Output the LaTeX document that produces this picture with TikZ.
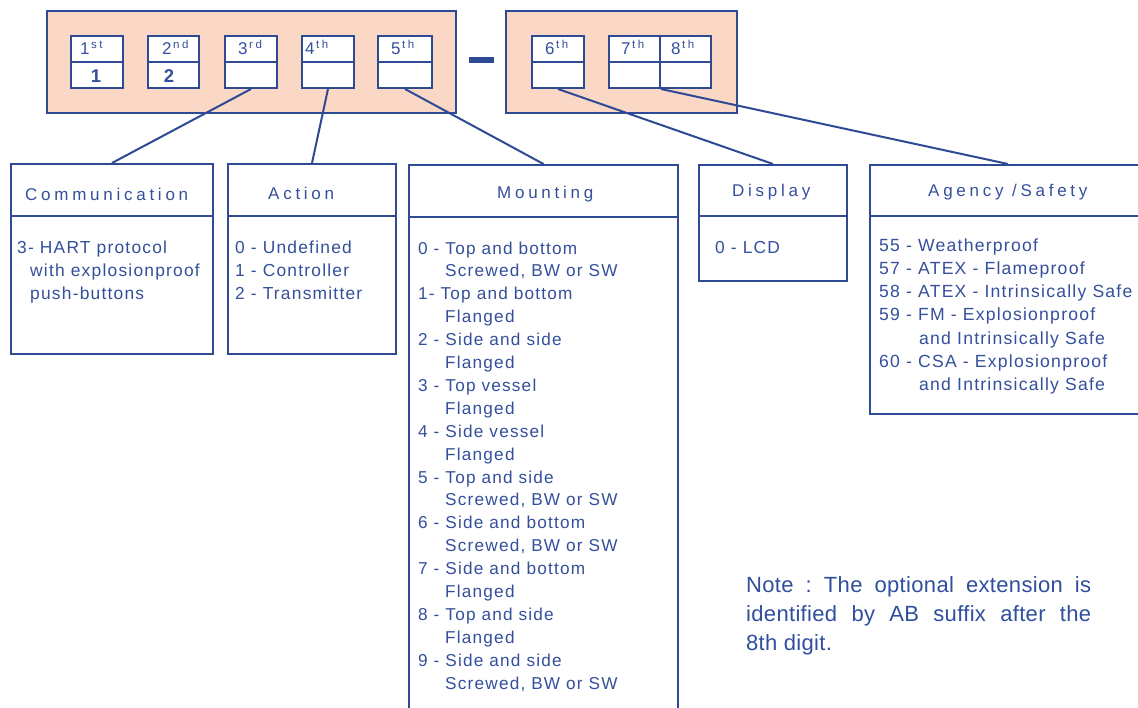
\documentclass[tikz,border=0pt]{standalone}
\usepackage{fontspec}
\setmainfont{Liberation Sans}
\newfontfamily\bodyfont[LetterSpace=7]{Liberation Sans}
\newfontfamily\hdfont[LetterSpace=22]{Liberation Sans}
\newfontfamily\notefont[LetterSpace=1.5]{Liberation Sans}
\definecolor{dblue}{HTML}{2E4A94}
\definecolor{tblue}{HTML}{34509C}
\definecolor{nblue}{HTML}{2F4F9E}
\definecolor{peach}{HTML}{FAD8C5}
\newcommand{\sfx}[1]{\hspace{1.5pt}\raisebox{5.5pt}{\hdfont\fontsize{11.5}{12}\selectfont #1}}
\newcommand{\bodyset}{\bodyfont\fontsize{17.4}{23}\selectfont}
\frenchspacing
\begin{document}
\frenchspacing
\begin{tikzpicture}[x=1pt,y=-1pt,
  grpbox/.style={draw=dblue,fill=peach,line width=2pt,inner sep=0pt,anchor=north west},
  digbox/.style={draw=dblue,fill=white,line width=2pt,inner sep=0pt,anchor=north west,minimum height=52pt},
  catbox/.style={draw=dblue,fill=white,line width=2pt,inner sep=0pt,anchor=north west},
  divl/.style={draw=dblue,line width=2.6pt},
  conn/.style={draw=dblue,line width=2pt},
  hdtxt/.style={text=tblue,inner sep=0pt,anchor=base west,font=\hdfont\fontsize{17}{20}\selectfont},
  bodytxt/.style={text=tblue,inner sep=0pt,anchor=base west},
  dlab/.style={text=tblue,inner sep=0pt,anchor=base west,font=\fontsize{17}{20}\selectfont},
  dval/.style={text=tblue,inner sep=0pt,anchor=base,font=\bfseries\fontsize{18.5}{20}\selectfont}]
\clip (0,0) rectangle (1138,707);
\fill[white] (0,0) rectangle (1138,707);
% group boxes
\node[grpbox,minimum width=409pt,minimum height=102pt] (g1) at (46,10) {};
\node[grpbox,minimum width=231pt,minimum height=102pt] (g2) at (505,10) {};
\node[fill=dblue,inner sep=0pt,minimum width=25pt,minimum height=6pt] (dash) at (481,60) {};
% digit boxes
\node[digbox,minimum width=52pt] (d1) at (70,35) {};
\node[digbox,minimum width=51pt] (d2) at (147,35) {};
\node[digbox,minimum width=52pt] (d3) at (224,35) {};
\node[digbox,minimum width=52pt] (d4) at (301,35) {};
\node[digbox,minimum width=54pt] (d5) at (377,35) {};
\node[digbox,minimum width=52pt] (d6) at (531,35) {};
\node[digbox,minimum width=51pt] (d7) at (608,35) {};
\node[digbox,minimum width=51pt] (d8) at (659,35) {};
\foreach \d in {d1,d2,d3,d4,d5,d6,d7,d8}{\draw[divl] (\d.west) -- (\d.east);}
% digit labels
\node[dlab] (l1) at (80,54) {1\sfx{st}};
\node[dlab] (l2) at (162,54) {2\sfx{nd}};
\node[dlab] (l3) at (238,54) {3\sfx{rd}};
\node[dlab] (l4) at (305,54) {4\sfx{th}};
\node[dlab] (l5) at (391,54) {5\sfx{th}};
\node[dlab] (l6) at (545,54) {6\sfx{th}};
\node[dlab] (l7) at (621,54) {7\sfx{th}};
\node[dlab] (l8) at (671,54) {8\sfx{th}};
\node[dval] (v1) at (96,82) {1};
\node[dval] (v2) at (169,82) {2};
% category boxes
\node[catbox,minimum width=202pt,minimum height=190pt] (comm) at (10,163) {};
\node[catbox,minimum width=168pt,minimum height=190pt] (act) at (227,163) {};
\node[catbox,minimum width=269pt,minimum height=560pt] (mount) at (408,164) {};
\node[catbox,minimum width=148pt,minimum height=116pt] (disp) at (698,164) {};
\node[catbox,minimum width=276pt,minimum height=249pt] (agcy) at (869,164) {};
\draw[divl] (comm.west |- 0,216) -- (comm.east |- 0,216);
\draw[divl] (act.west |- 0,216) -- (act.east |- 0,216);
\draw[divl] (mount.west |- 0,217) -- (mount.east |- 0,217);
\draw[divl] (disp.west |- 0,216) -- (disp.east |- 0,216);
\draw[divl] (agcy.west |- 0,216) -- (agcy.east |- 0,216);
% connectors
\draw[conn] (d3.south) -- (comm.north);
\draw[conn] (d4.south) -- (act.north);
\draw[conn] (d5.south) -- (mount.north);
\draw[conn] (d6.south) -- (disp.north);
\draw[conn] (d7.south east) -- (agcy.north);
% headers
\node[hdtxt] (hcomm) at (25,200) {Communication};
\node[hdtxt] (hact) at (268,199) {Action};
\node[hdtxt] (hmount) at (497,198) {Mounting};
\node[hdtxt] (hdisp) at (732,196) {Display};
\node[hdtxt] (hagcy) at (928,196) {Agency /Safety};
% bodies
\node[bodytxt] (bcomm) at (17,253) {\parbox[t]{195pt}{\bodyset 3- HART protocol\\
\hspace*{13pt}with explosionproof\\
\hspace*{13pt}push-buttons}};
\node[bodytxt] (bact) at (235,253) {\parbox[t]{160pt}{\bodyset 0 - Undefined\\
1 - Controller\\
2 - Transmitter}};
\node[bodytxt] (bmount) at (418,254) {\parbox[t]{255pt}{\bodyfont\fontsize{17.2}{22.9}\selectfont
0 - Top and bottom\\
\hspace*{27pt}Screwed, BW or SW\\
1- Top and bottom\\
\hspace*{27pt}Flanged\\
2 - Side and side\\
\hspace*{27pt}Flanged\\
3 - Top vessel\\
\hspace*{27pt}Flanged\\
4 - Side vessel\\
\hspace*{27pt}Flanged\\
5 - Top and side\\
\hspace*{27pt}Screwed, BW or SW\\
6 - Side and bottom\\
\hspace*{27pt}Screwed, BW or SW\\
7 - Side and bottom\\
\hspace*{27pt}Flanged\\
8 - Top and side\\
\hspace*{27pt}Flanged\\
9 - Side and side\\
\hspace*{27pt}Screwed, BW or SW}};
\node[bodytxt] (bdisp) at (715,253) {\parbox[t]{120pt}{\bodyset 0 - LCD}};
\node[bodytxt] (bagcy) at (879,251) {\parbox[t]{265pt}{\bodyfont\fontsize{17.6}{23.3}\selectfont
55 - Weatherproof\\
57 - ATEX - Flameproof\\
58 - ATEX - Intrinsically Safe\\
59 - FM - Explosionproof\\
\hspace*{40pt}and Intrinsically Safe\\
60 - CSA - Explosionproof\\
\hspace*{40pt}and Intrinsically Safe}};
% note
\node[bodytxt,text=nblue] (note) at (746,592) {\parbox[t]{345pt}{\frenchspacing\notefont\fontsize{22}{29}\selectfont
Note : The optional extension is\linebreak identified by AB suffix after the\linebreak 8th digit.}};
\end{tikzpicture}
\end{document}
